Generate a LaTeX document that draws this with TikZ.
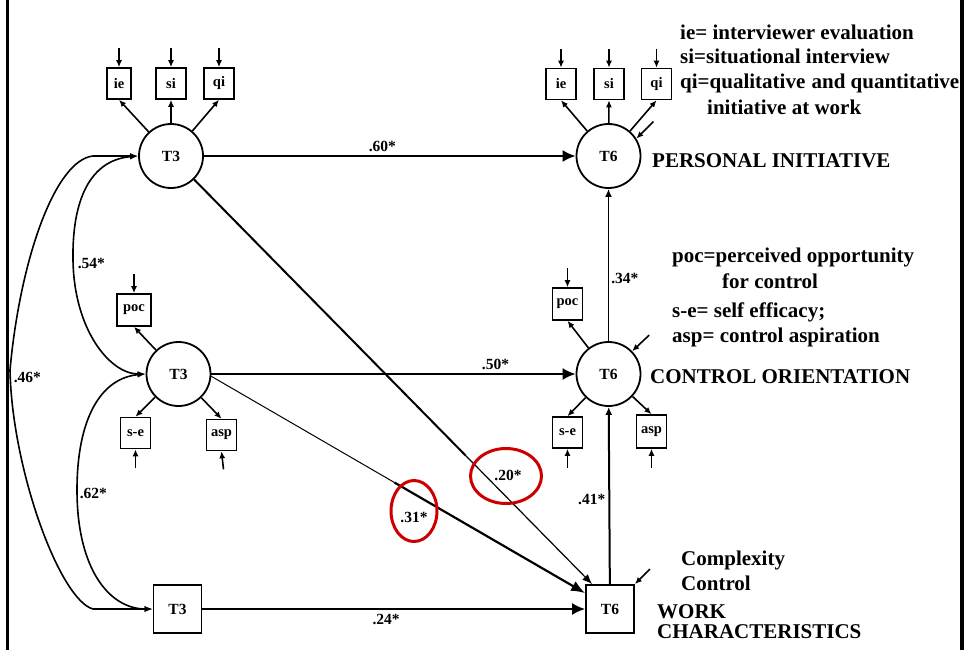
\documentclass[tikz,border=0pt]{standalone}
\usepackage{fontspec}
\setmainfont{Liberation Serif}
\usetikzlibrary{arrows.meta,calc,shapes.geometric}
\definecolor{markred}{RGB}{204,0,0}
\begin{document}
\begin{tikzpicture}[x=1pt,y=-1pt,
  every node/.style={font=\bfseries},
  latent/.style={circle, draw, line width=1.8pt, minimum size=64pt, inner sep=0pt,
    font=\fontsize{15.5}{18}\selectfont\bfseries},
  obsbig/.style={rectangle, draw, line width=1.8pt, minimum width=48pt, minimum height=48pt,
    inner sep=0pt, font=\fontsize{15.5}{18}\selectfont\bfseries},
  indic/.style={rectangle, draw, line width=1.6pt, minimum width=30pt, minimum height=31pt,
    inner sep=0pt, font=\fontsize{14.5}{17}\selectfont\bfseries},
  coef/.style={font=\fontsize{15.5}{18}\selectfont\bfseries, inner sep=1pt},
  legend/.style={font=\fontsize{21}{25}\selectfont\bfseries, inner sep=0pt, anchor=base west},
  effect/.style={line width=2pt, -{Latex[length=13pt,width=12pt]}},
  loading/.style={line width=1.6pt, -{Latex[length=7pt,width=6pt]}},
  corr/.style={line width=1.6pt, {Latex[length=8pt,width=6pt]}-{Latex[length=8pt,width=6pt]}},
  ring/.style={ellipse, draw=markred, line width=3pt, inner sep=0pt},
]
\useasboundingbox (0,0) rectangle (968,650);

% side rules
\draw[line width=3.5pt] (7.7,0) -- (7.7,650);
\draw[line width=4pt] (962,0) -- (962,650);

% latent variables and work characteristics
\node[latent] (PI3) at (171,156) {T3};
\node[latent] (PI6) at (608.5,156) {T6};
\node[latent] (CO3) at (178.5,374) {T3};
\node[latent] (CO6) at (608.5,374) {T6};
\node[obsbig] (WK3) at (177.5,609) {T3};
\node[obsbig] (WK6) at (610,609) {T6};

% indicators
\node[indic, minimum width=24pt] (PI3ie) at (119,83.5) {ie};
\node[indic] (PI3si) at (171,83.5) {si};
\node[indic] (PI3qi) at (219,83.5) {qi};
\node[indic] (PI6ie) at (561,84) {ie};
\node[indic] (PI6si) at (609,84) {si};
\node[indic] (PI6qi) at (656.5,84) {qi};
\node[indic, minimum width=34pt, minimum height=32pt] (CO3poc) at (134,310) {poc};
\node[indic] (CO3se) at (135.5,433) {s-e};
\node[indic] (CO3asp) at (221.5,435) {asp};
\node[indic, minimum height=32pt] (CO6poc) at (567.5,304) {poc};
\node[indic] (CO6se) at (567.5,432.5) {s-e};
\node[indic, minimum height=33pt] (CO6asp) at (651.5,431.5) {asp};

% loadings and residuals of the personal initiative indicators
\foreach \f in {PI3,PI6}{
  \foreach \i in {ie,si,qi}{
    \draw[loading] (\f) -- (\f\i.south);
    \draw[loading] ($(\f\i.north)+(0,-19)$) -- (\f\i.north);
  }
}

% loadings and residuals of the control orientation indicators
\draw[loading] (CO3) -- (CO3poc.south);
\draw[loading] (CO3) -- (CO3se.north);
\draw[loading] (CO3) -- (CO3asp.north);
\draw[loading] ($(CO3poc.north)+(0,-19)$) -- (CO3poc.north);
\draw[loading] ($(CO3se.south)+(0,19)$) -- (CO3se.south);
\draw[loading] ($(CO3asp.south)+(2,18)$) -- (CO3asp.south);
\draw[loading] (CO6) -- (CO6poc.south);
\draw[loading] (CO6) -- (CO6se.north);
\draw[loading] (CO6) -- (CO6asp.north);
\draw[loading] ($(CO6poc.north)+(0,-19)$) -- (CO6poc.north);
\draw[loading] ($(CO6se.south)+(0,19)$) -- (CO6se.south);
\draw[loading] ($(CO6asp.south)+(0,19)$) -- (CO6asp.south);

% disturbances of the T6 variables
\draw[loading] ($(PI6.32)+(17,-17)$) -- (PI6.32);
\draw[loading] ($(CO6.44)+(17,-16)$) -- (CO6.44);
\draw[loading] ($(WK6.north east)+(15,-15)$) -- (WK6.north east);

% stability paths
\draw[effect] (PI3) -- node[coef, pos=.48, above=2pt] {.60*} (PI6);
\draw[effect] (CO3) -- node[coef, pos=.78, above=2pt] {.50*} (CO6);
\draw[effect] (WK3) -- node[coef, pos=.48, below=3pt] {.24*} (WK6);

% cross-lagged paths between T6 variables
\draw[line width=1.6pt, -{Latex[length=8pt,width=7pt]}] (CO6) -- node[coef, pos=.41, right=1pt] {.34*} (PI6);
\draw[line width=2pt, -{Latex[length=8pt,width=7pt]}] (WK6) -- node[coef, pos=.48, left=2pt] {.41*} (CO6);

% diagonal paths into work characteristics T6
\coordinate (tip20) at ([xshift=7pt]WK6.north west);
\coordinate (mid20) at ($(PI3.center)!0.7!(tip20)$);
\draw[line width=2pt] (PI3) -- (mid20);
\draw[line width=1.2pt, -{Latex[length=10pt,width=8pt]}] (mid20) -- (tip20);

\coordinate (tip31) at ([yshift=-9pt]WK6.north west);
\coordinate (mid31) at ($(CO3.-4)!0.49!(tip31)$);
\draw[line width=1pt] (CO3.-4) -- (mid31);
\draw[line width=2.2pt, -{Latex[length=14pt,width=11pt]}] (mid31) -- (tip31);

% highlighted coefficients
\node[ring, minimum width=46pt, minimum height=61pt] (ring31) at (414,511) {};
\node[coef] (c31) at (414,517) {.31*};
\node[ring, minimum width=71pt, minimum height=55pt] (ring20) at (506,476) {};
\node[coef] (c20) at (508,475) {.20*};

% correlations among the T3 variables
\draw[corr] (PI3.west) -- (93,156) .. controls (55,160) and (20,260) .. (10,370)
  node[coef, anchor=west, xshift=2pt, yshift=-7pt] {.46*}
  .. controls (12,470) and (60,600) .. (93,609) -- (WK3.west);
\draw[corr] (PI3.west) .. controls (90,160) and (72,200) .. (73,260)
  node[coef, anchor=west, xshift=3pt, yshift=-3pt] {.54*}
  .. controls (74,330) and (110,374) .. (CO3.west);
\draw[corr] (CO3.west) .. controls (100,378) and (77,420) .. (77,490)
  node[coef, anchor=west, xshift=1pt, yshift=-3pt] {.62*}
  .. controls (77,570) and (110,609) .. (WK3.west);

% legends and construct names
\node[legend] (lg1) at (680,40) {ie= interviewer evaluation};
\node[legend] (lg2) at (680,64) {si=situational interview};
\node[legend] (lg3) at (680,89) {qi=qualitative\ \kern1pt and quantitative};
\node[legend] (lg4) at (707,114) {initiative at work};
\node[legend] (PIname) at (652,167) {PERSONAL INITIATIVE};
\node[legend] (lg5) at (672,262) {poc=perceived opportunity};
\node[legend] (lg6) at (722,288) {for control};
\node[legend] (lg7) at (672,317) {s-e= self efficacy;};
\node[legend] (lg8) at (672,342) {asp= control aspiration};
\node[legend] (COname) at (650,383) {CONTROL ORIENTATION};
\node[legend] (wk1) at (681,565) {Complexity};
\node[legend] (wk2) at (681,590) {Control};
\node[legend] (wk3) at (657,618) {WORK};
\node[legend] (wk4) at (657,638) {CHARACTERISTICS};
\end{tikzpicture}
\end{document}
